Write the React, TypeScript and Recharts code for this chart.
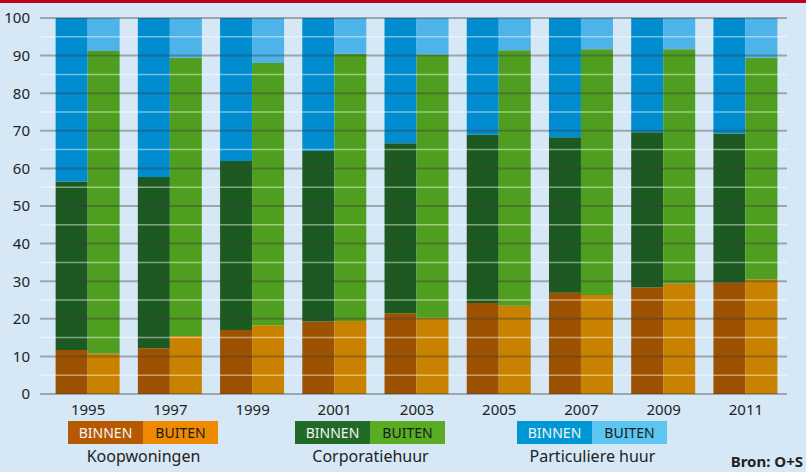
import { BarChart, Bar, XAxis, YAxis, ReferenceLine } from 'recharts';

const years = ['1995', '1997', '1999', '2001', '2003', '2005', '2007', '2009', '2011'];

// koopwoningen share (%)
const koopBinnen = [11.7, 12.2, 17.0, 19.3, 21.5, 24.2, 26.9, 28.3, 29.6];
const koopBuiten = [10.8, 15.4, 18.3, 19.4, 20.3, 23.5, 26.3, 29.4, 30.5];
// corporatiehuur share (%)
const corpBinnen = [44.8, 45.5, 45.0, 45.3, 45.2, 44.8, 41.4, 41.3, 39.7];
const corpBuiten = [80.4, 74.0, 69.7, 71.1, 70.0, 67.9, 65.4, 62.3, 58.9];
// particuliere huur share (%)
const partBinnen = [43.5, 42.3, 38.0, 35.4, 33.3, 31.0, 31.7, 30.4, 30.7];
const partBuiten = [8.8, 10.6, 12.0, 9.5, 9.7, 8.6, 8.3, 8.3, 10.6];

const yTicks = [0, 10, 20, 30, 40, 50, 60, 70, 80, 90, 100];
const halfTicks = [5, 15, 25, 35, 45, 55, 65, 75, 85, 95];

const data = years.map((year, i) => ({
  year,
  koopBinnen: koopBinnen[i],
  corpBinnen: corpBinnen[i],
  partBinnen: partBinnen[i],
  koopBuiten: koopBuiten[i],
  corpBuiten: corpBuiten[i],
  partBuiten: partBuiten[i],
}));

const font = '"Noto Sans", sans-serif';

const legendGroups = [
  { label: 'Koopwoningen', left: 68, binnen: '#b55a00', buiten: '#ef8a00' },
  { label: 'Corporatiehuur', left: 295, binnen: '#216a27', buiten: '#5aac24' },
  { label: 'Particuliere huur', left: 517, binnen: '#0098d4', buiten: '#5cc5f1' },
];

function Swatch({ color, text, light }: { color: string; text: string; light: boolean }) {
  return (
    <div
      style={{
        width: 75,
        height: 23,
        background: color,
        color: light ? '#f4f4f4' : '#1a1a1a',
        fontSize: 14,
        lineHeight: '23px',
        textAlign: 'center',
      }}
    >
      {text}
    </div>
  );
}

// thin darker edge on top of each stacked segment
const segEdge = 'rgba(0,0,0,0.35)';

export default function App() {
  return (
    <div
      style={{
        position: 'fixed',
        left: 0,
        top: 0,
        width: 806,
        height: 472,
        background: '#d6e8f6',
        fontFamily: font,
        overflow: 'hidden',
      }}
    >
      <div style={{ position: 'absolute', left: 0, top: 0, width: 806, height: 3, background: '#c1001b' }} />
      <BarChart
        width={806}
        height={472}
        data={data}
        margin={{ top: 18, right: 19, bottom: 58, left: 0 }}
        barCategoryGap="10.5%"
        barGap={0}
      >
        <XAxis
          dataKey="year"
          axisLine={false}
          tickLine={false}
          height={20}
          padding={{ left: 7, right: 0 }}
          tick={{ fill: '#222', fontSize: 15, fontFamily: font }}
          dy={2}
        />
        <YAxis
          domain={[0, 100]}
          ticks={yTicks}
          width={40}
          axisLine={false}
          tickLine={false}
          interval={0}
          tick={{ fill: '#222', fontSize: 15, fontFamily: font }}
          dx={-2}
        />
        <Bar dataKey="koopBinnen" stackId="binnen" fill="#9c5200" isAnimationActive={false} />
        <Bar dataKey="corpBinnen" stackId="binnen" fill="#1d5a21" isAnimationActive={false} />
        <Bar dataKey="partBinnen" stackId="binnen" fill="#008ccf" isAnimationActive={false} />
        <Bar dataKey="koopBuiten" stackId="buiten" fill="#c98200" isAnimationActive={false} />
        <Bar dataKey="corpBuiten" stackId="buiten" fill="#4f9e20" isAnimationActive={false} />
        <Bar dataKey="partBuiten" stackId="buiten" fill="#4db3e8" isAnimationActive={false} />
        {halfTicks.map((v) => (
          <ReferenceLine key={'h' + v} y={v} stroke="rgba(255,255,255,0.45)" strokeWidth={1.5} />
        ))}
        {yTicks.map((v) => (
          <ReferenceLine key={'g' + v} y={v} stroke="rgba(60,60,60,0.38)" strokeWidth={2} />
        ))}
      </BarChart>
      {legendGroups.map((g) => (
        <div key={g.label} style={{ position: 'absolute', left: g.left, top: 421, width: 151 }}>
          <div style={{ display: 'flex' }}>
            <Swatch color={g.binnen} text="BINNEN" light />
            <Swatch color={g.buiten} text="BUITEN" light={false} />
          </div>
          <div style={{ textAlign: 'center', fontSize: 16, color: '#222', marginTop: 1, whiteSpace: 'nowrap' }}>
            {g.label}
          </div>
        </div>
      ))}
      <div
        style={{ position: 'absolute', right: 3, top: 451, fontSize: 15, fontWeight: 'bold', color: '#222' }}
      >
        Bron: O+S
      </div>
    </div>
  );
}
